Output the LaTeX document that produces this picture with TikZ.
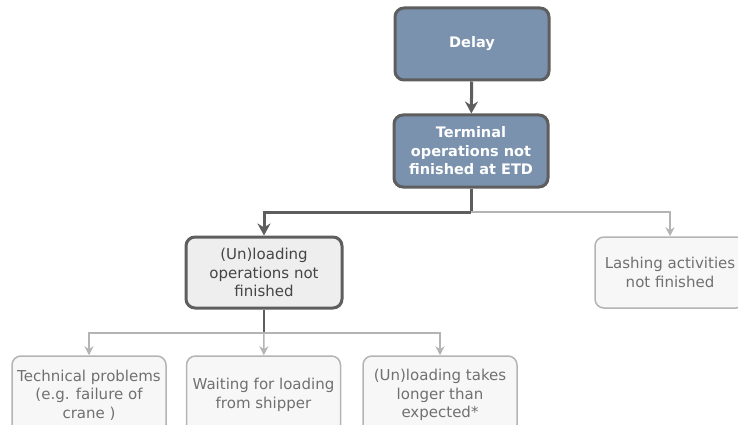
\documentclass[tikz,border=0pt]{standalone}
\usepackage{fontspec}
\setmainfont{DejaVu Sans}
\usetikzlibrary{arrows.meta}
\definecolor{slate}{HTML}{7A92AE}
\definecolor{edge}{HTML}{5E5E5E}
\definecolor{pale}{HTML}{B4B4B4}
\definecolor{paper}{HTML}{F7F7F7}
\definecolor{fog}{HTML}{EEEEEE}
\definecolor{ink}{HTML}{454545}
\definecolor{ash}{HTML}{707070}

\begin{document}
\begin{tikzpicture}[x=1pt, y=-1pt, font=\fontsize{15}{18.5}\selectfont]

\useasboundingbox (0,0) rectangle (738,425);
\clip (0,0) rectangle (738,425);

\tikzstyle{every node}=[rectangle, rounded corners=9pt, align=center, line width=3pt, draw=edge, fill=slate, text=white, font=\fontsize{14.5}{18.5}\selectfont\bfseries, minimum width=154pt, minimum height=72pt]
\draw    (472, 44)  node (delay) {Delay}
         (471, 151) node (term)  {Terminal\\operations not\\finished at ETD};

\tikzstyle{every node}=[rectangle, rounded corners=9pt, align=center, line width=3pt, draw=edge, fill=fog, text=ink, minimum width=156pt, minimum height=71pt]
\draw    (264, 272.5) node (unload) {(Un)loading\\operations not\\finished};

\tikzstyle{every node}=[rectangle, rounded corners=9pt, align=center, line width=1.5pt, draw=pale, fill=paper, text=ash, minimum width=154pt, minimum height=78pt, inner xsep=2pt]
\draw    (670, 272.5) node[minimum width=150pt, minimum height=71pt] (lash) {Lashing activities\\not finished}
         (89, 395)    node (tech)   {Technical problems\\(e.g. failure of\\crane )}
         (263.5, 395) node (wait)   {Waiting for loading\\from shipper}
         (440, 395)   node (longer) {(Un)loading takes\\longer than\\expected*};

\coordinate (split) at (471, 212);
\coordinate (fork)  at (264, 333);

% main path
\draw [line width=3pt, draw=edge, -{Stealth[length=12pt, width=13pt]}] (delay) -- (term);
\draw [line width=3pt, draw=edge] (term) -- (split);
\draw [line width=3pt, draw=edge, -{Stealth[length=12pt, width=13pt]}] (split) -| (unload);

% side branches
\draw [line width=1.5pt, draw=pale, -{Stealth[length=9pt, width=9pt]}] (split) -| (lash);
\draw [line width=1.5pt, draw=edge] (unload) -- (fork);
\draw [line width=1.5pt, draw=pale, -{Stealth[length=9pt, width=9pt]}] (fork) -| (tech);
\draw [line width=1.5pt, draw=pale, -{Stealth[length=9pt, width=9pt]}] (fork) -- (wait);
\draw [line width=1.5pt, draw=pale, -{Stealth[length=9pt, width=9pt]}] (fork) -| (longer);

\end{tikzpicture}
\end{document}
